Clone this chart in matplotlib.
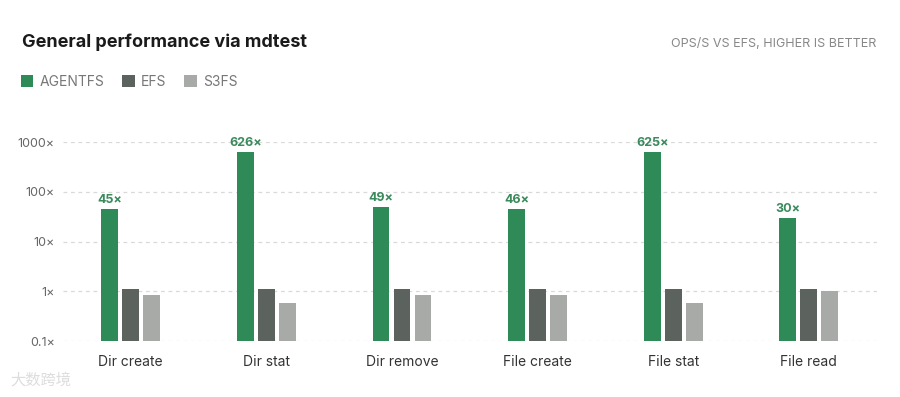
import matplotlib.pyplot as plt
import numpy as np

plt.rcParams['font.family'] = ['Inter', 'DejaVu Sans']

categories = ["Dir create", "Dir stat", "Dir remove", "File create", "File stat", "File read"]
agentfs = [45, 626, 49, 46, 625, 30]
efs = [1, 1, 1, 1, 1, 1]
s3fs = [0.76, 0.48, 0.76, 0.76, 0.47, 0.91]
series_names = ["AGENTFS", "EFS", "S3FS"]
colors = ["#2e8b57", "#5c635f", "#a8aaa8"]
yticks = [0.1, 1, 10, 100, 1000]
ytick_labels = ["0.1×", "1×", "10×", "100×", "1000×"]

fig = plt.figure(figsize=(9, 3.97), dpi=100)
fig.patch.set_facecolor("white")
ax = fig.add_axes([0.07, 0.141, 0.904, 0.501])

x = np.arange(len(categories))
w = 0.125
step = 0.155
bars = []
for i, (vals, c) in enumerate(zip([agentfs, efs, s3fs], colors)):
    b = ax.bar(x + (i - 1) * step, vals, width=w, bottom=0.1, color=c,
               linewidth=0, zorder=3)
    bars.append(b)

for xi, v in zip(x, agentfs):
    ax.text(xi - step, v * 1.15, f"{v}×", ha="center", va="bottom",
            fontsize=9, fontweight="bold", color="#3a8a5c", clip_on=False)

ax.set_yscale("log")
ax.set_ylim(0.1, 1000)
ax.set_xlim(-0.5, 5.5)
ax.set_yticks(yticks)
ax.set_yticklabels(ytick_labels)
ax.minorticks_off()
ax.set_xticks(x)
ax.set_xticklabels(categories)
ax.tick_params(axis="y", length=0, pad=6, labelsize=9, labelcolor="#666666")
ax.tick_params(axis="x", length=0, pad=10, labelsize=10, labelcolor="#333333")
ax.grid(axis="y", linestyle=(0, (3, 3)), color="#d9d9d9", linewidth=0.9, zorder=0)
for s in ax.spines.values():
    s.set_visible(False)

fig.text(22 / 900, 1 - 42 / 397, "General performance via mdtest", fontsize=13,
         fontweight="bold", color="#1a1a1a", va="center", ha="left")
fig.text(876 / 900, 1 - 44 / 397, "OPS/S VS EFS, HIGHER IS BETTER", fontsize=9,
         color="#888888", va="center", ha="right")

leg = fig.legend([b[0] for b in bars], series_names, loc="center left",
                 bbox_to_anchor=(8 / 900, 1 - 82 / 397), ncol=3, frameon=False,
                 handlelength=0.9, handleheight=0.9, handletextpad=0.45,
                 columnspacing=1.3, fontsize=10)
for t in leg.get_texts():
    t.set_color("#777777")

fig.text(10 / 900, 1 - 380 / 397, "大数跨境", fontsize=11, color="#dddddd",
         family=["Noto Sans CJK SC", "DejaVu Sans"], va="center", ha="left")

fig.savefig("out.png", dpi=100, facecolor="white")
